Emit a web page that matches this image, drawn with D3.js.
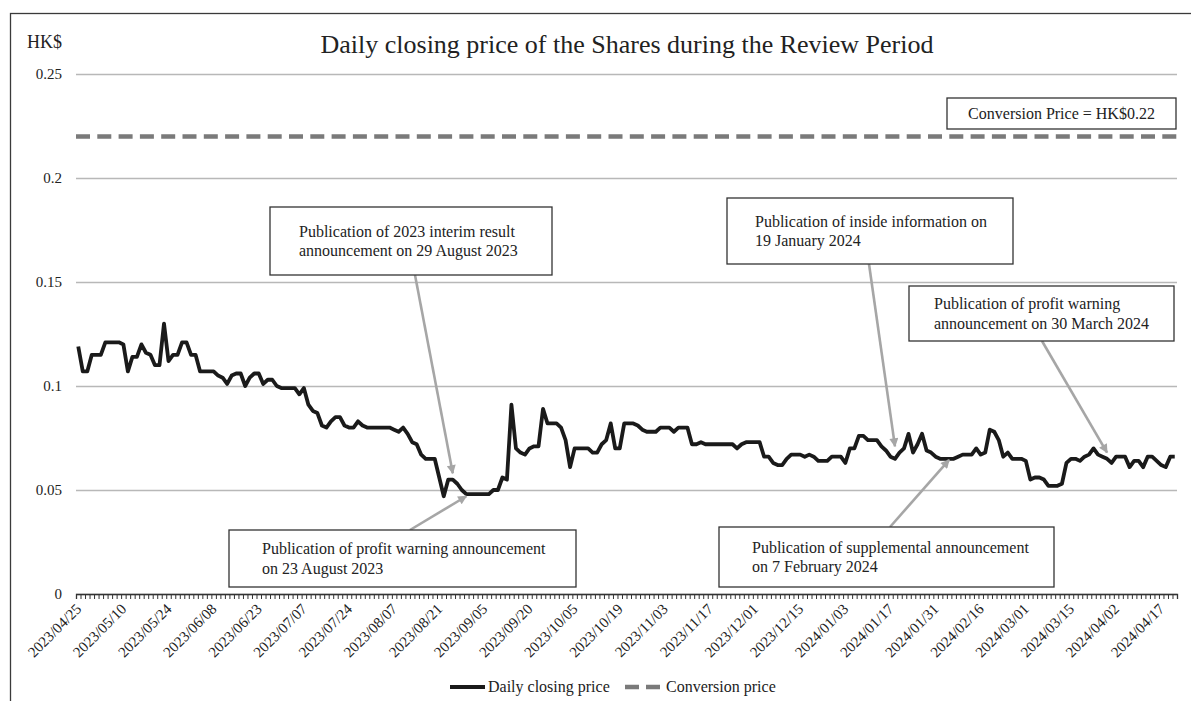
<!DOCTYPE html>
<html>
<head>
<meta charset="utf-8">
<script src="https://cdn.jsdelivr.net/npm/d3@7"></script>
<style>
  body { margin: 0; background: #fff; }
  svg { display: block; font-family: "Liberation Serif", "Times New Roman", serif; }
</style>
</head>
<body>
<div id="chart"></div>
<script>
// Trading days in the review period (categories)
var dates = [
  "2023/04/25","2023/04/26","2023/04/27","2023/04/28",
  "2023/05/02","2023/05/03","2023/05/04","2023/05/05","2023/05/08","2023/05/09","2023/05/10","2023/05/11","2023/05/12","2023/05/15","2023/05/16","2023/05/17","2023/05/18","2023/05/19","2023/05/22","2023/05/23","2023/05/24","2023/05/25","2023/05/29","2023/05/30","2023/05/31",
  "2023/06/01","2023/06/02","2023/06/05","2023/06/06","2023/06/07","2023/06/08","2023/06/09","2023/06/12","2023/06/13","2023/06/14","2023/06/15","2023/06/16","2023/06/19","2023/06/20","2023/06/21","2023/06/23","2023/06/26","2023/06/27","2023/06/28","2023/06/29","2023/06/30",
  "2023/07/03","2023/07/04","2023/07/05","2023/07/06","2023/07/07","2023/07/10","2023/07/11","2023/07/12","2023/07/13","2023/07/14","2023/07/18","2023/07/19","2023/07/20","2023/07/21","2023/07/24","2023/07/25","2023/07/26","2023/07/27","2023/07/28","2023/07/31",
  "2023/08/01","2023/08/02","2023/08/03","2023/08/04","2023/08/07","2023/08/08","2023/08/09","2023/08/10","2023/08/11","2023/08/14","2023/08/15","2023/08/16","2023/08/17","2023/08/18","2023/08/21","2023/08/22","2023/08/23","2023/08/24","2023/08/25","2023/08/28","2023/08/29","2023/08/30","2023/08/31",
  "2023/09/04","2023/09/05","2023/09/06","2023/09/07","2023/09/11","2023/09/12","2023/09/13","2023/09/14","2023/09/15","2023/09/18","2023/09/19","2023/09/20","2023/09/21","2023/09/22","2023/09/25","2023/09/26","2023/09/27","2023/09/28","2023/09/29",
  "2023/10/03","2023/10/04","2023/10/05","2023/10/06","2023/10/09","2023/10/10","2023/10/11","2023/10/12","2023/10/13","2023/10/16","2023/10/17","2023/10/18","2023/10/19","2023/10/20","2023/10/24","2023/10/25","2023/10/26","2023/10/27","2023/10/30","2023/10/31",
  "2023/11/01","2023/11/02","2023/11/03","2023/11/06","2023/11/07","2023/11/08","2023/11/09","2023/11/10","2023/11/13","2023/11/14","2023/11/15","2023/11/16","2023/11/17","2023/11/20","2023/11/21","2023/11/22","2023/11/23","2023/11/24","2023/11/27","2023/11/28","2023/11/29","2023/11/30",
  "2023/12/01","2023/12/04","2023/12/05","2023/12/06","2023/12/07","2023/12/08","2023/12/11","2023/12/12","2023/12/13","2023/12/14","2023/12/15","2023/12/18","2023/12/19","2023/12/20","2023/12/21","2023/12/22","2023/12/27","2023/12/28","2023/12/29",
  "2024/01/02","2024/01/03","2024/01/04","2024/01/05","2024/01/08","2024/01/09","2024/01/10","2024/01/11","2024/01/12","2024/01/15","2024/01/16","2024/01/17","2024/01/18","2024/01/19","2024/01/22","2024/01/23","2024/01/24","2024/01/25","2024/01/26","2024/01/29","2024/01/30","2024/01/31",
  "2024/02/01","2024/02/02","2024/02/05","2024/02/06","2024/02/07","2024/02/08","2024/02/09","2024/02/14","2024/02/15","2024/02/16","2024/02/19","2024/02/20","2024/02/21","2024/02/22","2024/02/23","2024/02/26","2024/02/27","2024/02/28","2024/02/29",
  "2024/03/01","2024/03/04","2024/03/05","2024/03/06","2024/03/07","2024/03/08","2024/03/11","2024/03/12","2024/03/13","2024/03/14","2024/03/15","2024/03/18","2024/03/19","2024/03/20","2024/03/21","2024/03/22","2024/03/25","2024/03/26","2024/03/27","2024/03/28",
  "2024/04/02","2024/04/03","2024/04/05","2024/04/08","2024/04/09","2024/04/10","2024/04/11","2024/04/12","2024/04/15","2024/04/16","2024/04/17","2024/04/18","2024/04/19","2024/04/22"
];

// Daily closing price (HK$)
var closing = [
  0.119,0.107,0.107,0.115,0.115,0.115,0.121,0.121,0.121,0.121,
  0.120,0.107,0.114,0.114,0.120,0.116,0.115,0.110,0.110,0.130,
  0.112,0.115,0.115,0.121,0.121,0.115,0.115,0.107,0.107,0.107,
  0.107,0.105,0.104,0.101,0.105,0.106,0.106,0.100,0.104,0.106,
  0.106,0.101,0.103,0.103,0.100,0.099,0.099,0.099,0.099,0.096,
  0.099,0.091,0.088,0.087,0.081,0.080,0.083,0.085,0.085,0.081,
  0.080,0.080,0.083,0.081,0.080,0.080,0.080,0.080,0.080,0.080,
  0.079,0.078,0.080,0.077,0.073,0.072,0.067,0.065,0.065,0.065,
  0.056,0.047,0.055,0.055,0.053,0.050,0.048,0.048,0.048,0.048,
  0.048,0.048,0.050,0.050,0.056,0.055,0.091,0.070,0.068,0.067,
  0.070,0.071,0.071,0.089,0.082,0.082,0.082,0.080,0.074,0.061,
  0.070,0.070,0.070,0.070,0.068,0.068,0.072,0.074,0.082,0.070,
  0.070,0.082,0.082,0.082,0.081,0.079,0.078,0.078,0.078,0.080,
  0.080,0.080,0.078,0.080,0.080,0.080,0.072,0.072,0.073,0.072,
  0.072,0.072,0.072,0.072,0.072,0.072,0.070,0.072,0.073,0.073,
  0.073,0.073,0.066,0.066,0.063,0.062,0.062,0.065,0.067,0.067,
  0.067,0.066,0.067,0.066,0.064,0.064,0.064,0.066,0.066,0.066,
  0.063,0.070,0.070,0.076,0.076,0.074,0.074,0.074,0.071,0.069,
  0.066,0.065,0.068,0.070,0.077,0.068,0.072,0.077,0.069,0.068,
  0.066,0.065,0.065,0.065,0.065,0.066,0.067,0.067,0.067,0.070,
  0.067,0.068,0.079,0.078,0.074,0.066,0.068,0.065,0.065,0.065,
  0.064,0.055,0.056,0.056,0.055,0.052,0.052,0.052,0.053,0.063,
  0.065,0.065,0.064,0.066,0.067,0.070,0.067,0.066,0.065,0.063,
  0.066,0.066,0.066,0.061,0.064,0.064,0.061,0.066,0.066,0.064,
  0.062,0.061,0.066,0.066
];

var conversionPrice = 0.22;

// Labelled dates on the x axis
var tickLabels = [
  "2023/04/25","2023/05/10","2023/05/24","2023/06/08","2023/06/23","2023/07/07","2023/07/24",
  "2023/08/07","2023/08/21","2023/09/05","2023/09/20","2023/10/05","2023/10/19","2023/11/03",
  "2023/11/17","2023/12/01","2023/12/15","2024/01/03","2024/01/17","2024/01/31","2024/02/16",
  "2024/03/01","2024/03/15","2024/04/02","2024/04/17"
];
var yTicks = [0, 0.05, 0.1, 0.15, 0.2, 0.25];

// Annotation call-outs: text lines, where the arrow points (date, price)
var notes = [
  { lines: ["Publication of 2023 interim result", "announcement on 29 August 2023"],
    box: [270, 207, 282, 68], textX: 299, from: [415, 275], tipDate: "2023/08/24", tipValue: 0.058 },
  { lines: ["Publication of profit warning announcement", "on 23 August 2023"],
    box: [229, 530, 347, 57], textX: 262, from: [410, 530], tipDate: "2023/08/29", tipValue: 0.047 },
  { lines: ["Publication of inside information on", "19 January 2024"],
    box: [727, 198, 286, 66], textX: 755, from: [869, 264], tipDate: "2024/01/18", tipValue: 0.071 },
  { lines: ["Publication of profit warning", "announcement on 30 March 2024"],
    box: [909, 286, 265, 55], textX: 934, from: [1042, 341], tipDate: "2024/03/27", tipValue: 0.068 },
  { lines: ["Publication of supplemental announcement", "on 7 February 2024"],
    box: [719, 527, 335, 60], textX: 752, from: [890, 527], tipDate: "2024/02/05", tipValue: 0.0645 }
];

var W = 1191, H = 701;
var plotLeft = 76, plotRight = 1177, plotTop = 74, plotBottom = 594;

var svg = d3.select("#chart").append("svg")
    .attr("width", W).attr("height", H);

// outer frame (runs off the right and bottom edges)
svg.append("rect")
    .attr("x", 10.5).attr("y", 13.5)
    .attr("width", 1200).attr("height", 720)
    .attr("fill", "none").attr("stroke", "#3a3a3a").attr("stroke-width", 1.3);

var x = d3.scaleBand().domain(d3.range(dates.length)).range([plotLeft, plotRight]).padding(0);
var xEdge = d3.scaleLinear().domain([0, dates.length]).range([plotLeft, plotRight]);
var y = d3.scaleLinear().domain([0, 0.25]).range([plotBottom, plotTop]);
function cx(i) { return x(i) + x.bandwidth() / 2; }

// y grid + labels
var yAxis = svg.append("g")
    .attr("transform", "translate(" + plotLeft + ",0)")
    .call(d3.axisLeft(y).tickValues(yTicks)
        .tickSizeInner(-(plotRight - plotLeft)).tickSizeOuter(0).tickPadding(14)
        .tickFormat(function(d) { return d === 0 ? "0" : d3.format("~g")(d); }));
yAxis.select(".domain").remove();
yAxis.selectAll("line").attr("stroke", "#b8b8b8").attr("stroke-width", 1.3);
yAxis.selectAll("text").attr("font-size", 15).attr("fill", "#222")
    .attr("font-family", "Liberation Serif");

// x axis: minor tick at every category boundary
var xMinor = svg.append("g")
    .attr("transform", "translate(0," + plotBottom + ")")
    .call(d3.axisBottom(xEdge).tickValues(d3.range(dates.length + 1))
        .tickSize(5).tickFormat(""));
xMinor.select(".domain").attr("stroke", "#333").attr("stroke-width", 1.3);
xMinor.selectAll("line").attr("stroke", "#333").attr("stroke-width", 1);

// rotated date labels
svg.append("g").selectAll("text")
    .data(tickLabels)
    .enter().append("text")
    .attr("transform", function(d) {
        return "translate(" + (cx(dates.indexOf(d)) + 4) + "," + (plotBottom + 16) + ") rotate(-45)";
    })
    .attr("text-anchor", "end")
    .attr("font-size", 15).attr("fill", "#222")
    .text(function(d) { return d; });

// conversion price line
svg.append("line")
    .attr("x1", plotLeft).attr("x2", plotRight + 3)
    .attr("y1", y(conversionPrice)).attr("y2", y(conversionPrice))
    .attr("stroke", "#7a7a7a").attr("stroke-width", 4.5)
    .attr("stroke-dasharray", "14,7.3");

// closing price line
var line = d3.line()
    .x(function(d, i) { return cx(i); })
    .y(function(d) { return y(d); });
svg.append("path")
    .datum(closing)
    .attr("d", line)
    .attr("fill", "none").attr("stroke", "#1a1a1a")
    .attr("stroke-width", 3.8).attr("stroke-linejoin", "round");

// title and unit
svg.append("text").attr("x", 627).attr("y", 53)
    .attr("text-anchor", "middle").attr("font-size", 26).attr("fill", "#222")
    .text("Daily closing price of the Shares during the Review Period");
svg.append("text").attr("x", 27).attr("y", 48)
    .attr("font-size", 18).attr("fill", "#222").text("HK$");

// conversion price box
svg.append("rect").attr("x", 947).attr("y", 98).attr("width", 229).attr("height", 31)
    .attr("fill", "#fff").attr("stroke", "#333").attr("stroke-width", 1.3);
svg.append("text").attr("x", 1061.5).attr("y", 119).attr("text-anchor", "middle")
    .attr("font-size", 16).attr("fill", "#222").text("Conversion Price = HK$0.22");

// arrow marker
svg.append("defs").append("marker")
    .attr("id", "arrow").attr("viewBox", "0 0 10 10")
    .attr("refX", 9).attr("refY", 5)
    .attr("markerWidth", 11).attr("markerHeight", 9)
    .attr("markerUnits", "userSpaceOnUse")
    .attr("orient", "auto")
    .append("path").attr("d", "M0,0 L10,5 L0,10 z").attr("fill", "#a6a6a6");

var ann = svg.append("g").selectAll("g").data(notes).enter().append("g");
ann.append("line")
    .attr("x1", function(d) { return d.from[0]; })
    .attr("y1", function(d) { return d.from[1]; })
    .attr("x2", function(d) { return cx(dates.indexOf(d.tipDate)); })
    .attr("y2", function(d) { return y(d.tipValue); })
    .attr("stroke", "#a6a6a6").attr("stroke-width", 2.6)
    .attr("marker-end", "url(#arrow)");
ann.append("rect")
    .attr("x", function(d) { return d.box[0]; })
    .attr("y", function(d) { return d.box[1]; })
    .attr("width", function(d) { return d.box[2]; })
    .attr("height", function(d) { return d.box[3]; })
    .attr("fill", "#fff").attr("stroke", "#333").attr("stroke-width", 1.3);
ann.each(function(d) {
    var g = d3.select(this);
    var mid = d.box[1] + d.box[3] / 2;
    d.lines.forEach(function(t, k) {
        g.append("text")
            .attr("x", d.textX)
            .attr("y", mid - 4.5 + k * 19.5)
            .attr("font-size", 16).attr("fill", "#222")
            .text(t);
    });
});

// legend
var lg = svg.append("g");
lg.append("line").attr("x1", 450).attr("x2", 485).attr("y1", 687).attr("y2", 687)
    .attr("stroke", "#1a1a1a").attr("stroke-width", 4);
lg.append("text").attr("x", 488).attr("y", 692).attr("font-size", 16).attr("fill", "#222")
    .text("Daily closing price");
lg.append("line").attr("x1", 625).attr("x2", 660).attr("y1", 687).attr("y2", 687)
    .attr("stroke", "#7a7a7a").attr("stroke-width", 4.5).attr("stroke-dasharray", "14,7");
lg.append("text").attr("x", 666).attr("y", 692).attr("font-size", 16).attr("fill", "#222")
    .text("Conversion price");
</script>
</body>
</html>
